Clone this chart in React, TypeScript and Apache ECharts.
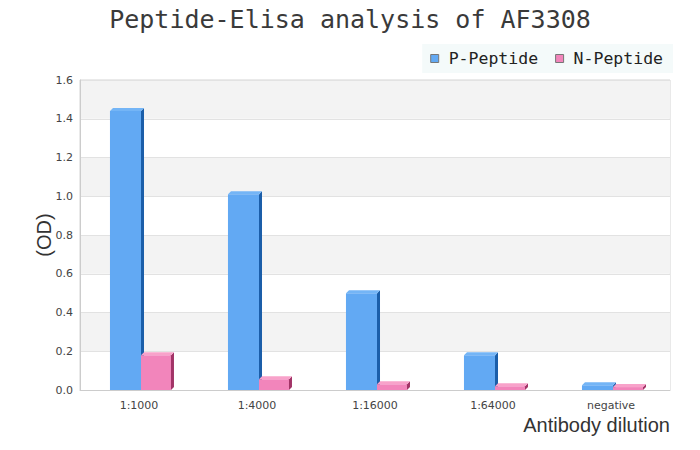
import React, { useEffect, useRef } from "react";
import * as echarts from "echarts";

const categories = ["1:1000", "1:4000", "1:16000", "1:64000", "negative"];
const pPeptide = [1.44, 1.01, 0.5, 0.18, 0.025];
const nPeptide = [0.18, 0.055, 0.03, 0.02, 0.015];
const seriesNames = ["P-Peptide", "N-Peptide"];

const blue = { front: "#62a9f3", side: "#1b5ea9", top: "#74b5f6" };
const pink = { front: "#f285bb", side: "#a23467", top: "#f8a2ca" };

function makeRender(startFrac: number, endFrac: number, col: { front: string; side: string; top: string }) {
  return (params: any, api: any) => {
    const cat = api.value(0);
    const val = api.value(1);
    const base = api.coord([cat, 0]);
    const topPt = api.coord([cat, val]);
    const band = api.size([1, 0])[0];
    const c = base[0];
    const x0 = c + startFrac * band;
    const x1 = c + endFrac * band;
    const yb = base[1];
    const yt = topPt[1];
    const d = 3;
    return {
      type: "group",
      children: [
        {
          type: "rect",
          shape: { x: x0, y: yt, width: x1 - x0, height: yb - yt },
          style: { fill: col.front },
        },
        {
          type: "polygon",
          shape: { points: [[x1, yt], [x1 + d, yt - d], [x1 + d, yb - d], [x1, yb]] },
          style: { fill: col.side },
        },
        {
          type: "polygon",
          shape: { points: [[x0, yt], [x0 + d, yt - d], [x1 + d, yt - d], [x1, yt]] },
          style: { fill: col.top },
        },
      ],
    };
  };
}

export default function App() {
  const ref = useRef<HTMLDivElement>(null);
  useEffect(() => {
    document.body.style.margin = "0";
    const chart = echarts.init(ref.current!, undefined, { renderer: "svg" });
    chart.setOption({
      animation: false,
      backgroundColor: "#ffffff",
      title: {
        text: "Peptide-Elisa analysis of AF3308",
        left: "center",
        top: 2,
        textStyle: {
          fontFamily: "DejaVu Sans Mono",
          fontSize: 25,
          fontWeight: "normal",
          color: "#3a3a3a",
        },
      },
      legend: {
        data: seriesNames,
        right: 27,
        top: 44,
        backgroundColor: "#f4fafa",
        padding: [6, 10, 6, 8],
        itemWidth: 8,
        itemHeight: 8,
        itemGap: 17,
        icon: "rect",
        itemStyle: { borderColor: "#777777", borderWidth: 1 },
        textStyle: {
          fontFamily: "DejaVu Sans Mono",
          fontSize: 16.5,
          color: "#222222",
          padding: [0, 0, 0, 5],
        },
      },
      grid: {
        left: 80,
        right: 30,
        top: 80,
        bottom: 60,
        show: true,
        borderColor: "#d4d4d4",
        borderWidth: 1,
        backgroundColor: "transparent",
      },
      xAxis: {
        type: "category",
        data: categories,
        name: "Antibody dilution",
        nameLocation: "end",
        nameGap: 0,
        nameMoveOverlap: false,
        nameTextStyle: {
          fontFamily: "Liberation Sans",
          fontSize: 20,
          color: "#333333",
          align: "right",
          verticalAlign: "top",
          padding: [25, 0, 0, 0],
        },
        axisLine: { lineStyle: { color: "#cccccc" } },
        axisTick: { show: false },
        axisLabel: {
          fontFamily: "DejaVu Sans",
          fontSize: 11,
          color: "#444444",
          margin: 10,
        },
      },
      yAxis: {
        type: "value",
        min: 0,
        max: 1.6,
        interval: 0.2,
        name: "(OD)",
        nameLocation: "middle",
        nameGap: 26,
        nameMoveOverlap: false,
        nameTextStyle: {
          fontFamily: "Liberation Sans",
          fontSize: 20,
          color: "#333333",
        },
        axisLine: { show: true, lineStyle: { color: "#cccccc" } },
        axisTick: { show: false },
        axisLabel: {
          fontFamily: "DejaVu Sans",
          fontSize: 11,
          color: "#444444",
          margin: 7,
          formatter: (v: number) => v.toFixed(1),
        },
        splitLine: { lineStyle: { color: "#e2e2e2" } },
        splitArea: { show: true, areaStyle: { color: ["#ffffff", "#f3f3f3"] } },
      },
      series: [
        {
          name: seriesNames[0],
          type: "custom",
          clip: false,
          itemStyle: { color: blue.front },
          data: pPeptide.map((v, i) => [i, v]),
          encode: { x: 0, y: 1 },
          renderItem: makeRender(-0.246, 0.017, blue),
        },
        {
          name: seriesNames[1],
          type: "custom",
          clip: false,
          itemStyle: { color: pink.front },
          data: nPeptide.map((v, i) => [i, v]),
          encode: { x: 0, y: 1 },
          renderItem: makeRender(0.017, 0.271, pink),
        },
      ],
    });
    return () => chart.dispose();
  }, []);
  return <div ref={ref} style={{ width: 700, height: 450 }} />;
}
